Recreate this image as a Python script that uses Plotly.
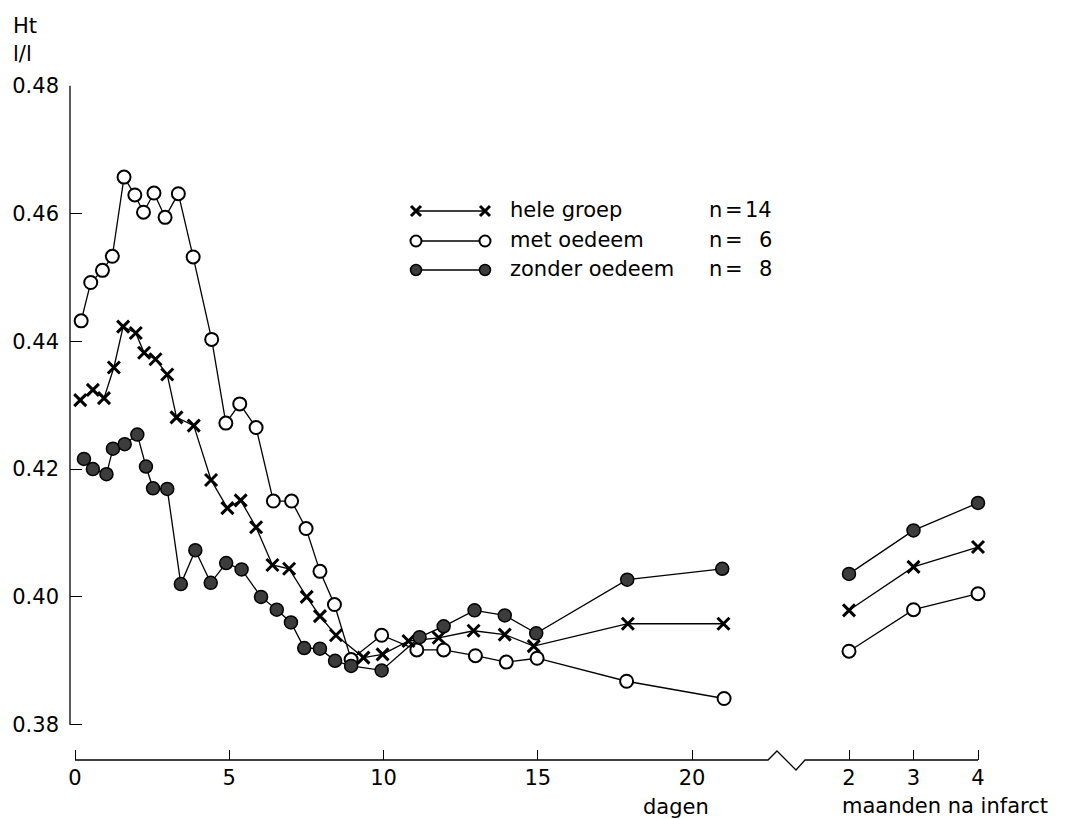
import plotly.graph_objects as go

# ---------------- data ----------------
# met oedeem (open circles), days after infarct
days_met = [0.20, 0.51, 0.89, 1.21, 1.59, 1.94, 2.22, 2.56, 2.92, 3.35, 3.83, 4.43,
            4.89, 5.34, 5.87, 6.43, 7.02, 7.49, 7.94, 8.41, 8.95, 9.94, 11.08, 11.95,
            12.98, 13.98, 14.98, 17.88, 21.04]
ht_met = [0.4432, 0.4492, 0.4511, 0.4533, 0.4657, 0.4629, 0.4602, 0.4632, 0.4594, 0.4631,
          0.4532, 0.4403, 0.4272, 0.4302, 0.4265, 0.4150, 0.4150, 0.4107, 0.4040, 0.3988,
          0.3902, 0.3940, 0.3917, 0.3917, 0.3908, 0.3898, 0.3904, 0.3868, 0.3841]

# hele groep (crosses)
days_all = [0.17, 0.58, 0.94, 1.26, 1.56, 1.97, 2.24, 2.61, 2.99, 3.29, 3.85, 4.41,
            4.94, 5.37, 5.87, 6.40, 6.94, 7.51, 7.94, 8.46, 9.35, 9.97, 10.81, 11.79,
            12.92, 13.93, 14.87, 17.92, 21.02]
ht_all = [0.4308, 0.4324, 0.4311, 0.4359, 0.4423, 0.4413, 0.4382, 0.4372, 0.4348, 0.4281,
          0.4268, 0.4183, 0.4139, 0.4151, 0.4109, 0.4050, 0.4044, 0.4000, 0.3970, 0.3940,
          0.3905, 0.3910, 0.3931, 0.3936, 0.3947, 0.3941, 0.3923, 0.3958, 0.3958]

# zonder oedeem (filled circles)
days_zon = [0.29, 0.58, 1.02, 1.23, 1.61, 2.02, 2.30, 2.53, 2.99, 3.43, 3.90, 4.40,
            4.90, 5.40, 6.03, 6.54, 7.00, 7.43, 7.94, 8.43, 8.95, 9.94, 11.17, 11.95,
            12.95, 13.93, 14.95, 17.90, 20.98]
ht_zon = [0.4216, 0.4200, 0.4192, 0.4232, 0.4239, 0.4254, 0.4204, 0.4170, 0.4169, 0.4020,
          0.4073, 0.4022, 0.4053, 0.4043, 0.4000, 0.3980, 0.3960, 0.3920, 0.3919, 0.3900,
          0.3892, 0.3885, 0.3937, 0.3954, 0.3979, 0.3971, 0.3943, 0.4027, 0.4044]

# months after infarct
months = [2, 3, 4]
ht_met_m = [0.3915, 0.3980, 0.4005]
ht_all_m = [0.3979, 0.4047, 0.4078]
ht_zon_m = [0.4036, 0.4104, 0.4147]

day_ticks = [0, 5, 10, 15, 20]
month_ticks = [2, 3, 4]
y_ticks = [0.38, 0.40, 0.42, 0.44, 0.46, 0.48]
y_ticktext = ["0.38", "0.40", "0.42", "0.44", "0.46", "0.48"]

legend_names = ["hele groep", "met oedeem", "zonder oedeem"]
legend_n = ["14", "6", "8"]

# ---------------- layout geometry (pixels) ----------------
W, H = 1071, 819
L, R, T, B = 62, 975, 77, 752
FONT = "DejaVu Sans"


def pxx(px):
    return (px - L) / (R - L)


def pxy(py):
    return (B - py) / (B - T)


day0_px, day_scale = 67.0, 30.85
break_left, break_right = 760.0, 797.0
m2_px, m_scale = 841.0, 64.5
xr_days = [(L - day0_px) / day_scale, (break_left - day0_px) / day_scale]
xr_months = [2 + (break_right - m2_px) / m_scale, 2 + (R - m2_px) / m_scale]
y_lo = 0.38 - (B - 716.7) / 6390.0
y_hi = 0.48 + (77.7 - T) / 6390.0

line_style = dict(color="black", width=1.3)
sty_met = dict(symbol="circle", size=13, color="white", line=dict(color="black", width=2))
sty_all = dict(symbol="x-thin", size=12, color="black", line=dict(color="black", width=3))
sty_zon = dict(symbol="circle", size=13, color="#3c3c3c", line=dict(color="black", width=1.5))

fig = go.Figure()
for xs, ys, ax, sty in [
    (days_met, ht_met, "x", sty_met),
    (days_all, ht_all, "x", sty_all),
    (days_zon, ht_zon, "x", sty_zon),
    (months, ht_met_m, "x2", sty_met),
    (months, ht_all_m, "x2", sty_all),
    (months, ht_zon_m, "x2", sty_zon),
]:
    fig.add_trace(go.Scatter(x=xs, y=ys, xaxis=ax, yaxis="y", mode="lines+markers",
                             line=line_style, marker=sty, cliponaxis=False,
                             showlegend=False, hoverinfo="skip"))

# custom legend samples on a separate full-size pixel axis
leg_rows = [203, 233, 262]
leg_x = [408, 477]
for name, row, sty in zip(legend_names, leg_rows, [sty_all, sty_met, sty_zon]):
    s = dict(sty)
    s["size"] = sty["size"] - 2
    fig.add_trace(go.Scatter(x=leg_x, y=[row, row], xaxis="x3", yaxis="y3",
                             mode="lines+markers", line=line_style, marker=s,
                             cliponaxis=False, showlegend=False, hoverinfo="skip"))

tickfont = dict(family=FONT, size=21, color="black")
fig.update_layout(
    width=W, height=H, autosize=False,
    margin=dict(l=L, r=W - R, t=T, b=H - B, pad=0, autoexpand=False),
    paper_bgcolor="white", plot_bgcolor="rgba(0,0,0,0)",
    font=dict(family=FONT, color="black"),
    xaxis=dict(domain=[0, pxx(break_left)], range=xr_days, tickvals=day_ticks,
               ticks="inside", ticklen=10, tickwidth=1.3, tickcolor="black",
               showline=False, showgrid=False, zeroline=False, tickfont=tickfont,
               ticklabelstandoff=3, anchor="y", automargin=False),
    xaxis2=dict(domain=[pxx(break_right), 1], range=xr_months, tickvals=month_ticks,
                ticks="inside", ticklen=10, tickwidth=1.3, tickcolor="black",
                showline=False, showgrid=False, zeroline=False, tickfont=tickfont,
                ticklabelstandoff=3, anchor="y", automargin=False),
    yaxis=dict(domain=[0, 1], range=[y_lo, y_hi], tickvals=y_ticks, ticktext=y_ticktext,
               ticks="inside", ticklen=12, tickwidth=1.3, tickcolor="black",
               showline=False, showgrid=False, zeroline=False, tickfont=tickfont,
               ticklabelstandoff=10, automargin=False),
    xaxis3=dict(domain=[0, 1], range=[L, R], visible=False, anchor="y3", automargin=False),
    yaxis3=dict(domain=[0, 1], range=[B, T], visible=False, anchor="x3", automargin=False),
)

# y axis line (only between 0.38 and 0.48)
fig.add_shape(type="line", xref="paper", yref="y", x0=0, x1=0, y0=0.38, y1=0.48,
              line=dict(color="black", width=1.3))

# x axis line with zig-zag break
pts = [(day0_px, B), (break_left, B), (769, 743), (788, 762), (break_right, B), (970, B)]
path = "M " + " L ".join(f"{pxx(a):.5f},{pxy(b):.5f}" for a, b in pts)
fig.add_shape(type="path", xref="paper", yref="paper", path=path,
              line=dict(color="black", width=1.3))


def ann(text, px, py, xanchor="left", size=21):
    fig.add_annotation(text=text, xref="paper", yref="paper", x=pxx(px), y=pxy(py),
                       xanchor=xanchor, yanchor="middle", showarrow=False,
                       font=dict(family=FONT, size=size, color="black"))


ann("Ht", 3, 18)
ann("l/l", 3, 46)
ann("dagen", 668, 799, "center")
ann("maanden na infarct", 832, 798)
for name, n, row in zip(legend_names, legend_n, leg_rows):
    ann(name, 500, row - 1)
    ann("n", 699, row - 1)
    ann("=", 726, row - 1, "center")
    ann(n, 766, row - 1, "right")

fig.write_html("out.html")
